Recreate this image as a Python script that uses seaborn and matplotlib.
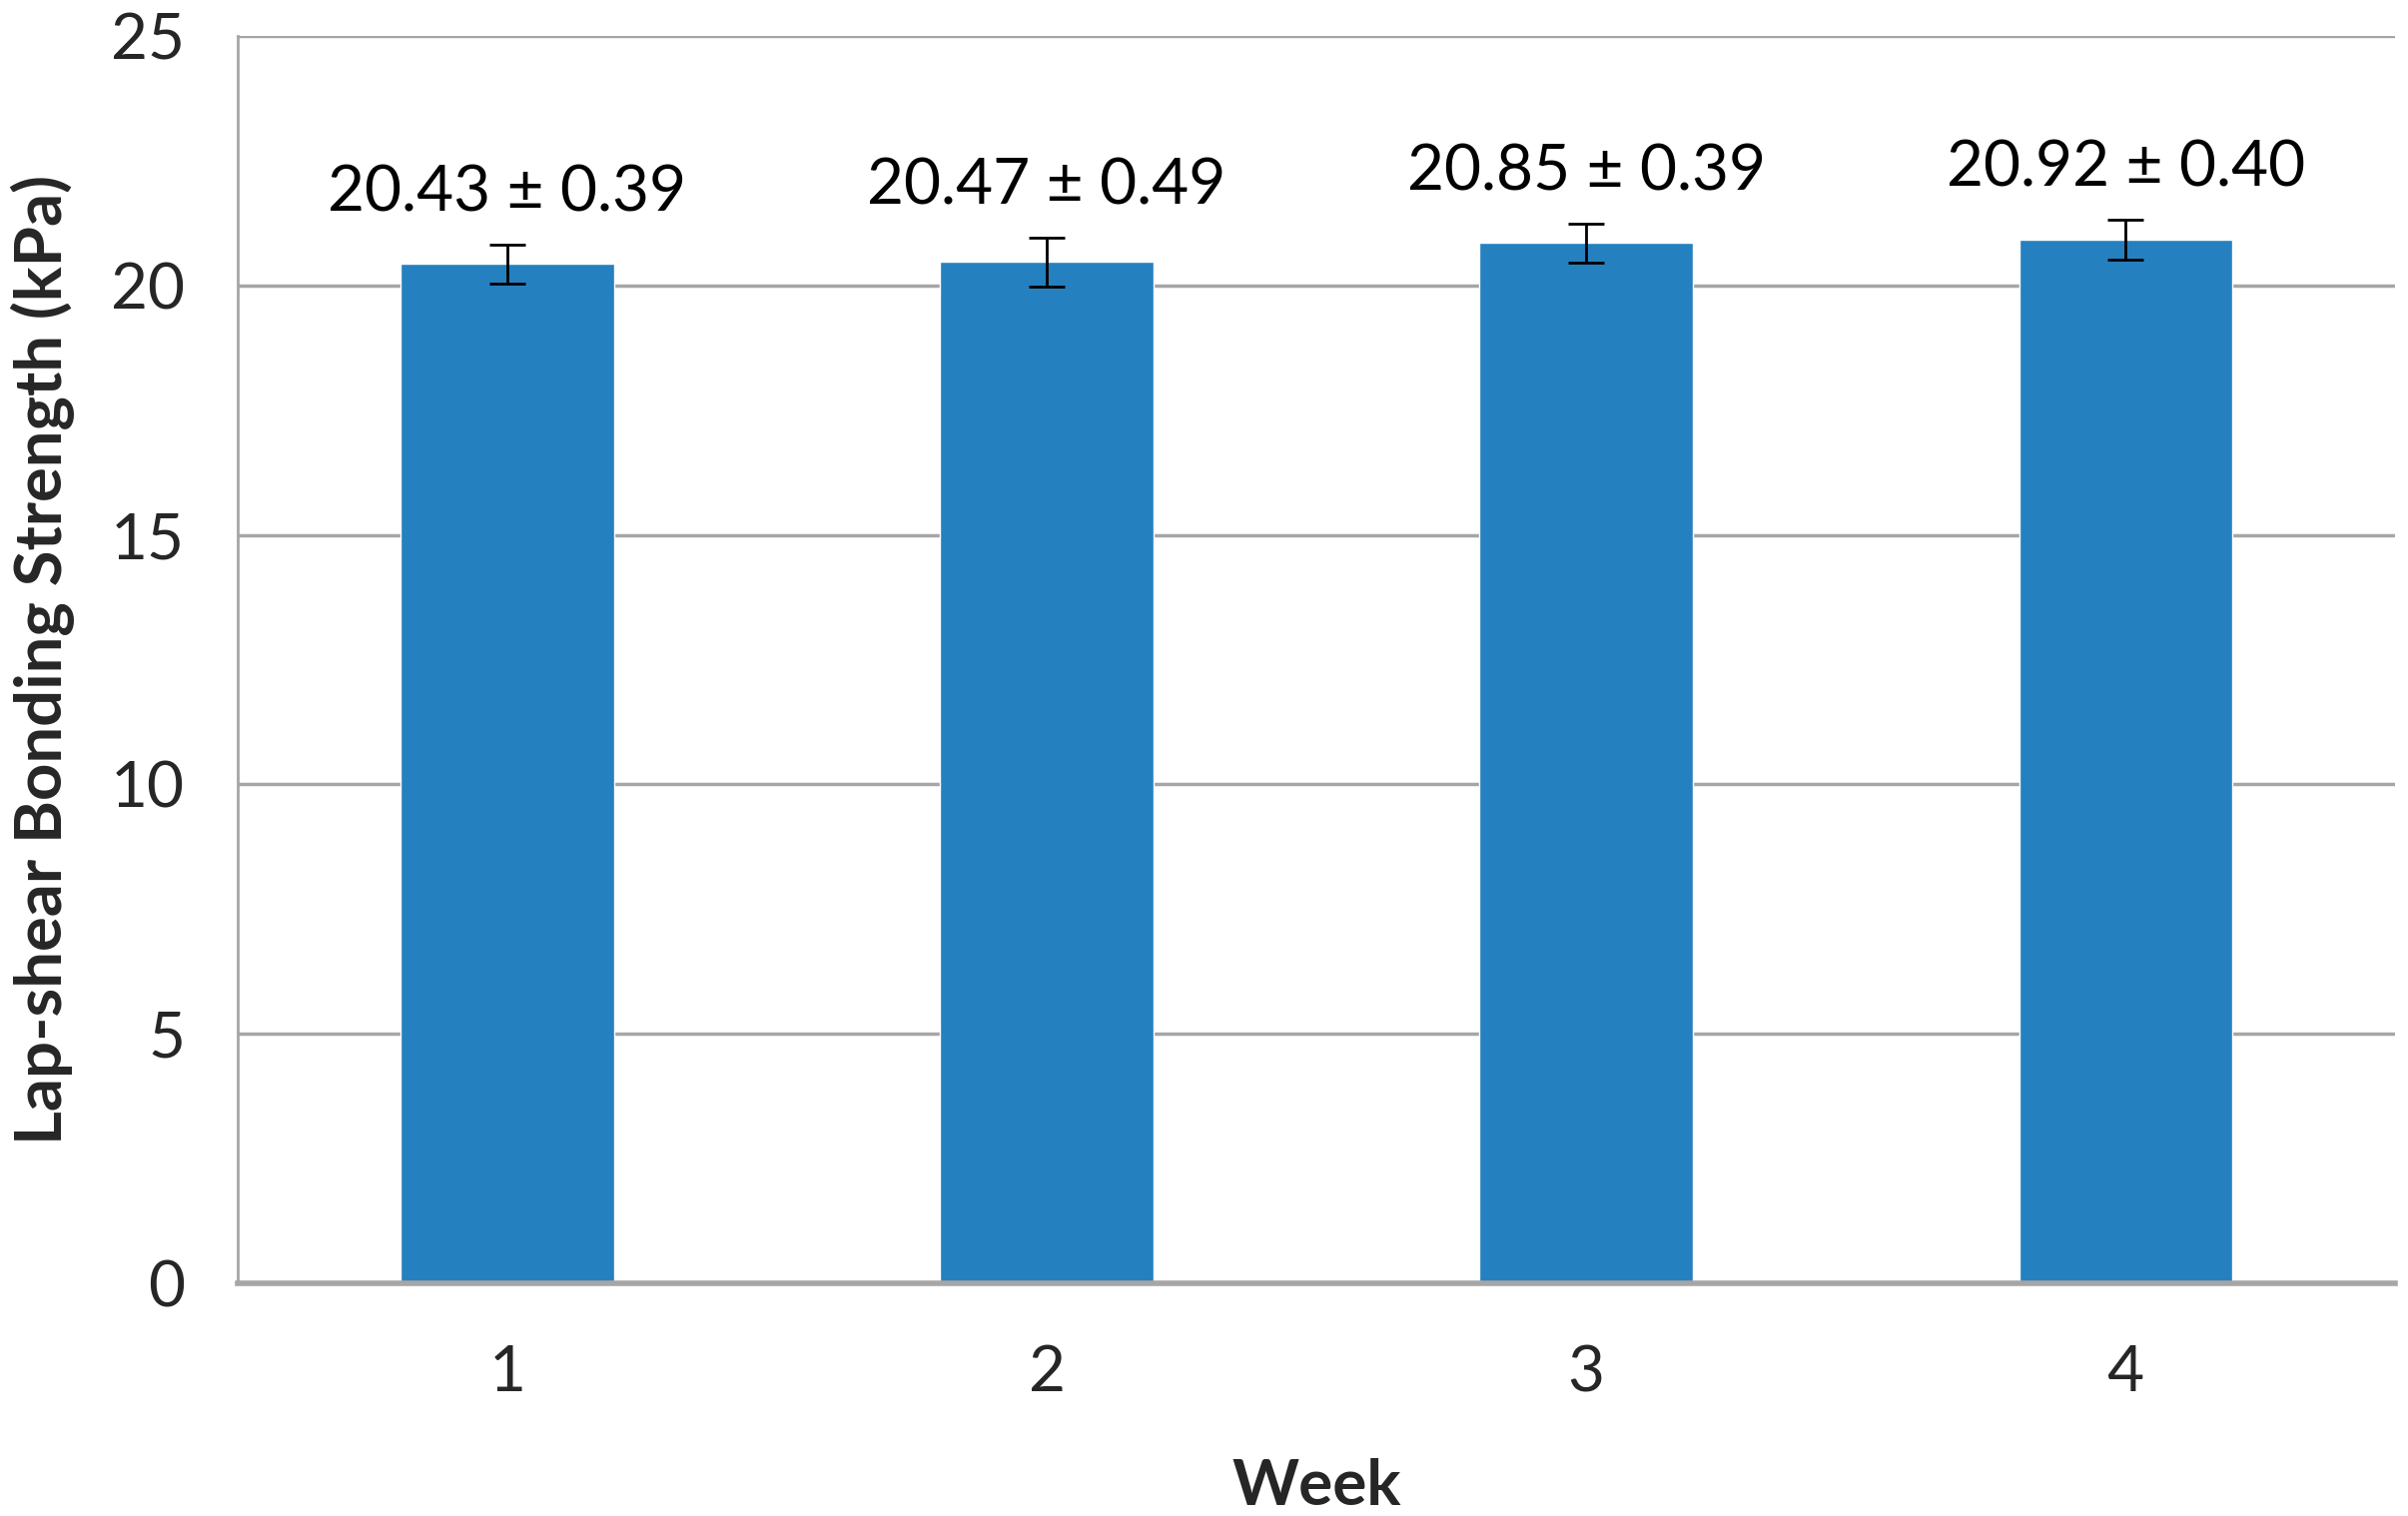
import matplotlib
matplotlib.use("Agg")
import matplotlib.pyplot as plt
import seaborn as sns
import pandas as pd

weeks = ["1", "2", "3", "4"]
means = [20.43, 20.47, 20.85, 20.92]
sds = [0.39, 0.49, 0.39, 0.40]
yticks = [0, 5, 10, 15, 20, 25]

sns.set_theme(style="white")
plt.rcParams['font.family'] = ['Lato', 'DejaVu Sans']

df = pd.DataFrame({"Week": weeks, "Strength": means, "SD": sds})

fig = plt.figure(figsize=(24.11, 15.18), dpi=100)
ax = fig.add_axes([0.0987, 0.1535, 0.896, 0.8227])

sns.barplot(data=df, x="Week", y="Strength", color="#2580C0", width=0.395,
            saturation=1, errorbar=None, ax=ax)
ax.errorbar(range(len(weeks)), means, yerr=sds, fmt="none", ecolor="black",
            elinewidth=2, capsize=13, capthick=2)

for i, (m, s) in enumerate(zip(means, sds)):
    ax.annotate(f"{m:.2f} ± {s:.2f}", (i, m + s), xytext=(0, 16),
                textcoords="offset points", ha="center", va="bottom",
                fontsize=46, color="black")

ax.set_ylim(0, 25)
ax.set_xlim(-0.5, 3.5)
ax.set_yticks(yticks)
ax.yaxis.grid(True, color="#a6a6a6", linewidth=2.5)
ax.set_axisbelow(True)
for sp in ["top", "right"]:
    ax.spines[sp].set_visible(False)
ax.spines["left"].set_color("#a6a6a6")
ax.spines["left"].set_linewidth(2)
ax.spines["bottom"].set_color("#a6a6a6")
ax.spines["bottom"].set_linewidth(4)
ax.tick_params(axis="y", which="major", length=22, width=2.5, color="#a6a6a6",
               labelsize=46, pad=16)
ax.tick_params(axis="x", which="major", length=0, labelsize=46, pad=44)
ax.set_ylabel("Lap-shear Bonding Strength (kPa)", fontsize=47, fontweight="bold",
              labelpad=26)
ax.set_xlabel("Week", fontsize=46, fontweight="bold", labelpad=40)

fig.savefig("out.png", dpi=100)
